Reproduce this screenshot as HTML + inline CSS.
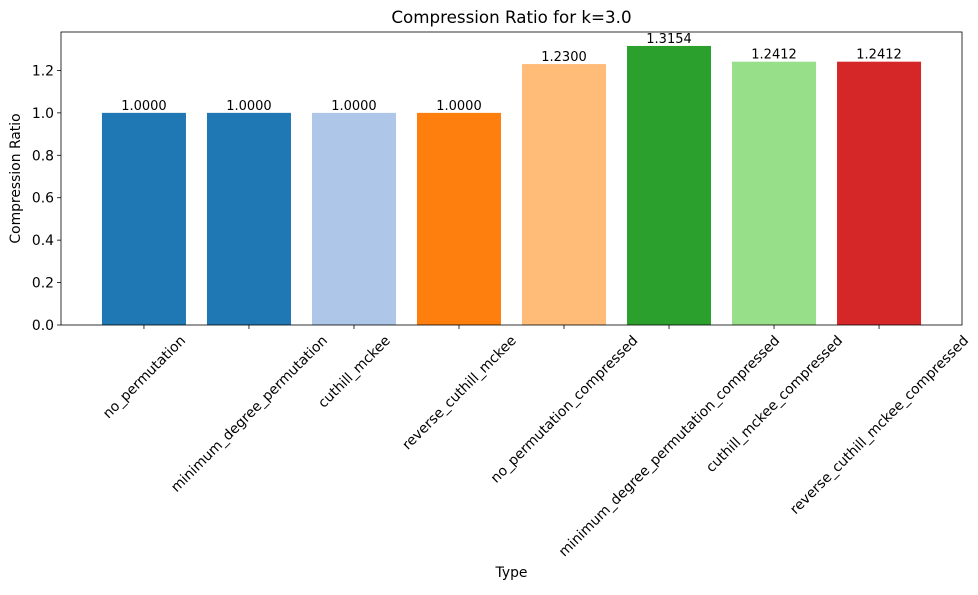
<!DOCTYPE html>
<html><head><meta charset="utf-8"><style>
body{margin:0;background:#fff;}
svg text{font-family:"DejaVu Sans","Liberation Sans",sans-serif;fill:#000;}
</style></head><body>
<svg id="chart" width="978" height="590"></svg>
<script>
const categories=["no_permutation","minimum_degree_permutation","cuthill_mckee","reverse_cuthill_mckee","no_permutation_compressed","minimum_degree_permutation_compressed","cuthill_mckee_compressed","reverse_cuthill_mckee_compressed"];
const values=[1.0,1.0,1.0,1.0,1.23,1.3154,1.2412,1.2412];
const valueLabels=["1.0000","1.0000","1.0000","1.0000","1.2300","1.3154","1.2412","1.2412"];
const colors=["#1f77b4","#1f77b4","#aec7e8","#ff7f0e","#ffbb78","#2ca02c","#98df8a","#d62728"];
const yTicks=[0,0.2,0.4,0.6,0.8,1.0,1.2];
const yTickLabels=["0.0","0.2","0.4","0.6","0.8","1.0","1.2"];

const NS="http://www.w3.org/2000/svg";
const svg=document.getElementById('chart');
const L=61,R=962,T=32,B=325;
const FS=13.9;
const n=categories.length;
const xmin=-0.4-0.05*(n-0.2),xmax=n-0.6+0.05*(n-0.2);
const ymax=Math.max(...values)*1.05;
const x=v=>L+(v-xmin)/(xmax-xmin)*(R-L);
const y=v=>B-v/ymax*(B-T);
function el(t,a,txt){const e=document.createElementNS(NS,t);for(const k in a)e.setAttribute(k,a[k]);if(txt!==undefined)e.textContent=txt;svg.appendChild(e);return e;}

let e=el('text',{x:(L+R)/2,y:23,'text-anchor':'middle','font-size':16.7},'Compression Ratio for k=3.0');



const bw=0.8*(x(1)-x(0));
values.forEach((v,i)=>{
  const r=el('rect',{x:x(i)-bw/2,y:y(v),width:bw,height:B-y(v),fill:colors[i]});
  
  
  const t=el('text',{x:x(i),y:y(v)-3,'text-anchor':'middle','font-size':13},valueLabels[i]);
  
  
  const tk=el('line',{x1:x(i),x2:x(i),y1:B,y2:B+4,stroke:'#000','stroke-width':0.8});
  
  
  const lb=el('text',{x:0,y:0,'text-anchor':'middle','font-size':FS},categories[i]);
  const w=lb.getComputedTextLength();
  const h=(w+FS)*0.7071;
  const cx=x(i),cy=B+8+h/2;
  lb.setAttribute('x',cx);
  lb.setAttribute('y',cy+4.8);
  lb.setAttribute('transform',`rotate(-45 ${cx} ${cy})`);
  
  
});
yTicks.forEach((v,i)=>{
  const tk=el('line',{x1:L-4,x2:L,y1:y(v),y2:y(v),stroke:'#000','stroke-width':0.8});
  
  
  const t=el('text',{x:L-7,y:y(v)+5,'text-anchor':'end','font-size':FS},yTickLabels[i]);
  
  
});
const fr=el('rect',{x:L,y:T,width:R-L,height:B-T,fill:'none',stroke:'#000','stroke-width':0.8});


const xt=el('text',{x:(L+R)/2,y:577,'text-anchor':'middle','font-size':FS},'Type');


const yt=el('text',{x:20,y:(T+B)/2,'text-anchor':'middle','font-size':FS,transform:`rotate(-90 20 ${(T+B)/2})`},'Compression Ratio');


</script>
</body></html>
